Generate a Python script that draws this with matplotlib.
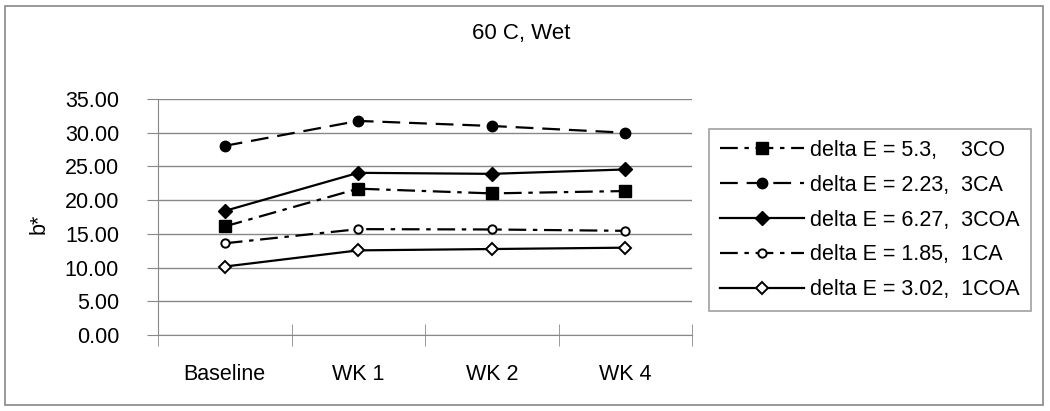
import matplotlib.pyplot as plt
from matplotlib.patches import Rectangle

categories = ['Baseline', 'WK 1', 'WK 2', 'WK 4']
labels = ['delta E = 5.3,    3CO', 'delta E = 2.23,  3CA', 'delta E = 6.27,  3COA',
          'delta E = 1.85,  1CA', 'delta E = 3.02,  1COA']
b_3co = [16.1, 21.7, 21.0, 21.35]
b_3ca = [28.05, 31.75, 31.0, 30.0]
b_3coa = [18.4, 24.05, 23.9, 24.55]
b_1ca = [13.6, 15.7, 15.65, 15.45]
b_1coa = [10.15, 12.55, 12.75, 12.95]

plt.rcParams['font.family'] = ['Liberation Sans', 'DejaVu Sans']
FS = 15.5

fig = plt.figure(figsize=(10.5, 4.11), dpi=100)
fig.patches.append(Rectangle((5 / 1050, 6 / 411), 1038 / 1050, 399 / 411, transform=fig.transFigure,
                             fill=False, edgecolor='#888888', linewidth=1.2))
ax = fig.add_axes([158 / 1050, 1 - 335 / 411, 534 / 1050, 236 / 411])

x = list(range(len(categories)))
styles = [
    (b_3co, dict(linestyle=(0, (8, 3, 2, 3)), marker='s', markersize=8.5, mfc='black')),
    (b_3ca, dict(linestyle=(0, (8, 4)), marker='o', markersize=7.5, mfc='black')),
    (b_3coa, dict(linestyle='-', marker='D', markersize=7.5, mfc='black')),
    (b_1ca, dict(linestyle=(0, (8, 3, 2, 3)), marker='o', markersize=6, mfc='white', mew=1.4)),
    (b_1coa, dict(linestyle='-', marker='D', markersize=6, mfc='white', mew=1.4)),
]
for (vals, kw), lab in zip(styles, labels):
    ax.plot(x, vals, color='black', linewidth=1.6, mec='black', label=lab, **kw)

ax.set_xlim(-0.5, len(categories) - 0.5)
ax.set_ylim(0, 35)
ax.set_yticks(range(0, 36, 5))
ax.set_yticklabels([f'{v:.2f}' for v in range(0, 36, 5)], fontsize=FS)
ax.set_xticks(x)
ax.set_xticklabels(categories, fontsize=FS)
ax.set_xticks([i + 0.5 for i in range(-1, len(categories))], minor=True)
ax.tick_params(axis='x', which='major', length=0, pad=21)
ax.tick_params(axis='x', which='minor', length=16, color='#888888', direction='inout')
ax.tick_params(axis='y', length=8, color='#888888', pad=20)
ax.grid(axis='y', color='#888888', linewidth=1)
ax.set_axisbelow(True)
for s in ['top', 'right']:
    ax.spines[s].set_visible(False)
for s in ['left', 'bottom']:
    ax.spines[s].set_color('#888888')
ax.set_ylabel('b*', fontsize=FS)
ax.yaxis.set_label_coords((50 - 158) / 534, 0.47)

fig.text(521 / 1050, 1 - 34 / 411, '60 C, Wet', ha='center', va='center', fontsize=16)

leg = fig.legend(loc='center', bbox_to_anchor=(870 / 1050, 1 - 220 / 411), fontsize=FS,
                 handlelength=3.9, labelspacing=0.65, handletextpad=0.3,
                 fancybox=False, edgecolor='#888888', borderpad=0.5, borderaxespad=0)
leg.get_frame().set_linewidth(1.2)

fig.savefig('out.png', dpi=100)
